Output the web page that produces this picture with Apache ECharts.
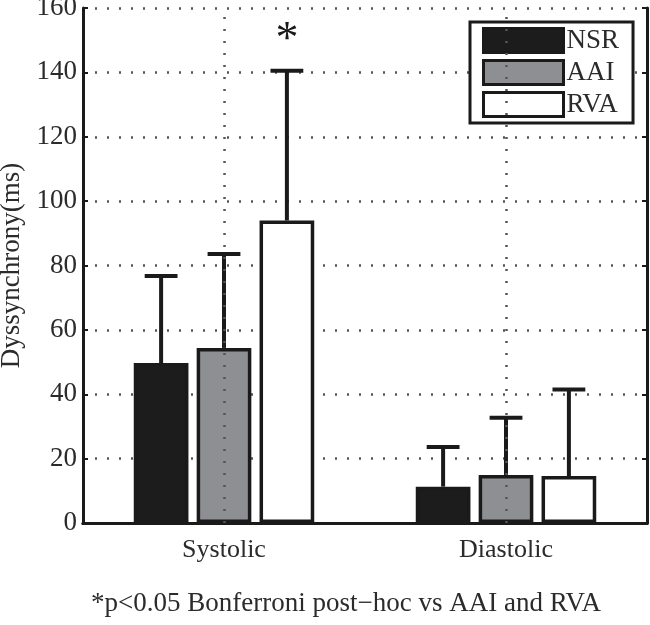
<!DOCTYPE html>
<html>
<head>
<meta charset="utf-8">
<script src="https://cdn.jsdelivr.net/npm/echarts@6/dist/echarts.min.js"></script>
<style>
  html, body { margin: 0; padding: 0; background: #fff; }
  #chart { width: 650px; height: 625px; }
</style>
</head>
<body>
<div id="chart"></div>
<script>
  // data
  const categories = ['Systolic', 'Diastolic']
  const groupNames = ['NSR', 'AAI', 'RVA']
  const nsrMean = [49.7, 11.3]
  const aaiMean = [54.4, 14.9]
  const rvaMean = [94, 14.6]
  const nsrUpper = [76.7, 23.6]
  const aaiUpper = [83.6, 32.7]
  const rvaUpper = [140.5, 41.5]
  const rvaMark = ['*', '']
  const yTicks = [0, 20, 40, 60, 80, 100, 120, 140, 160]

  const fillColors = ['#1c1c1c', '#8e8f92', '#ffffff']
  const font = 'Liberation Serif'
  const textColor = '#2b2b2b'
  const catGap = 0.36
  const barGap = 0.15

  const means = [nsrMean, aaiMean, rvaMean]
  const uppers = [nsrUpper, aaiUpper, rvaUpper]
  const marks = [['', ''], ['', ''], rvaMark]

  const errData = []
  groupNames.forEach((g, si) => {
    categories.forEach((c, ci) => {
      errData.push([ci, means[si][ci], uppers[si][ci], si, marks[si][ci]])
    })
  })

  function renderErr(params, api) {
    const bandW = api.size([1, 0])[0]
    const barW = bandW * (1 - catGap) / (3 + 2 * barGap)
    const offset = (api.value(3) - 1) * barW * (1 + barGap)
    const base = api.coord([api.value(0), api.value(1)])
    const top = api.coord([api.value(0), api.value(2)])
    const x = base[0] + offset
    const capHalf = barW * 0.3
    const style = { stroke: '#1a1a1a', lineWidth: 4 }
    const children = [
      { type: 'line', shape: { x1: x, y1: base[1], x2: x, y2: top[1] }, style: style },
      { type: 'line', shape: { x1: x - capHalf, y1: top[1], x2: x + capHalf, y2: top[1] }, style: style }
    ]
    const mark = api.value(4)
    if (mark) {
      children.push({
        type: 'text',
        style: {
          text: mark, x: x, y: top[1] - 30,
          align: 'center', verticalAlign: 'middle',
          font: '46px "' + font + '"', fill: '#1a1a1a'
        }
      })
    }
    return { type: 'group', children: children }
  }

  const dotted = { color: '#555', width: 2.5, type: [2, 10] }

  const chart = echarts.init(document.getElementById('chart'))
  const option = {
    animation: false,
    backgroundColor: '#fff',
    grid: { left: 83, right: 3, top: 8, bottom: 102, containLabel: false, outerBoundsMode: 'none' },
    legend: {
      data: groupNames,
      orient: 'vertical',
      left: 470,
      top: 22,
      icon: 'rect',
      itemWidth: 80,
      itemHeight: 24,
      itemGap: 5,
      padding: [5, 14, 5, 12],
      backgroundColor: '#fff',
      borderColor: '#1a1a1a',
      borderWidth: 3,
      itemStyle: { borderColor: '#1a1a1a', borderWidth: 3 },
      textStyle: { fontFamily: font, fontSize: 27, color: textColor, padding: [0, 0, 0, -2] }
    },
    xAxis: [
      {
        type: 'category',
        data: categories,
        axisLine: { lineStyle: { color: '#1a1a1a', width: 3 } },
        axisTick: { inside: true, alignWithLabel: true, length: 5, lineStyle: { color: '#1a1a1a', width: 2 } },
        axisLabel: { fontFamily: font, fontSize: 26, color: textColor, margin: 14 },
        splitLine: { show: false }
      },
      {
        type: 'category',
        data: categories,
        position: 'top',
        axisLine: { lineStyle: { color: '#1a1a1a', width: 3 } },
        axisTick: { inside: true, alignWithLabel: true, length: 5, lineStyle: { color: '#1a1a1a', width: 2 } },
        axisLabel: { show: false }
      }
    ],
    yAxis: [
      {
        type: 'value',
        min: 0,
        max: 160,
        interval: 20,
        name: 'Dyssynchrony(ms)',
        nameLocation: 'middle',
        nameGap: 55,
        nameTextStyle: { fontFamily: font, fontSize: 27, color: textColor },
        axisLine: { show: true, lineStyle: { color: '#1a1a1a', width: 3 } },
        axisTick: { show: true, inside: true, length: 5, lineStyle: { color: '#1a1a1a', width: 2 } },
        axisLabel: {
          fontFamily: font, fontSize: 27, color: textColor, margin: 6,
          formatter: v => (yTicks.indexOf(v) >= 0 ? String(v) : '')
        },
        splitLine: { show: true, lineStyle: dotted }
      },
      {
        type: 'value',
        min: 0,
        max: 160,
        interval: 20,
        position: 'right',
        axisLine: { show: true, lineStyle: { color: '#1a1a1a', width: 3 } },
        axisTick: { show: true, inside: true, length: 5, lineStyle: { color: '#1a1a1a', width: 2 } },
        axisLabel: { show: false },
        splitLine: { show: false }
      }
    ],
    series: [
      {
        name: 'vgrid',
        type: 'line',
        data: [],
        z: 1,
        silent: true,
        markLine: {
          silent: true,
          symbol: 'none',
          label: { show: false },
          lineStyle: dotted,
          data: categories.map(c => ({ xAxis: c }))
        }
      }
    ].concat(groupNames.map((g, i) => ({
      name: g,
      type: 'bar',
      z: 2,
      barCategoryGap: (catGap * 100) + '%',
      barGap: (barGap * 100) + '%',
      data: means[i],
      itemStyle: { color: fillColors[i], borderColor: '#1a1a1a', borderWidth: 3.5 }
    }))).concat([
      {
        name: 'err',
        type: 'custom',
        z: 3,
        silent: true,
        renderItem: renderErr,
        encode: { x: 0, y: 2 },
        data: errData
      }
    ]),
    graphic: [
      {
        type: 'text',
        left: 91,
        top: 590,
        style: {
          text: '*p<0.05 Bonferroni post\u2212hoc vs AAI and RVA',
          font: '27px "' + font + '"',
          fill: textColor
        }
      }
    ]
  }
  chart.setOption(option)
</script>
</body>
</html>
